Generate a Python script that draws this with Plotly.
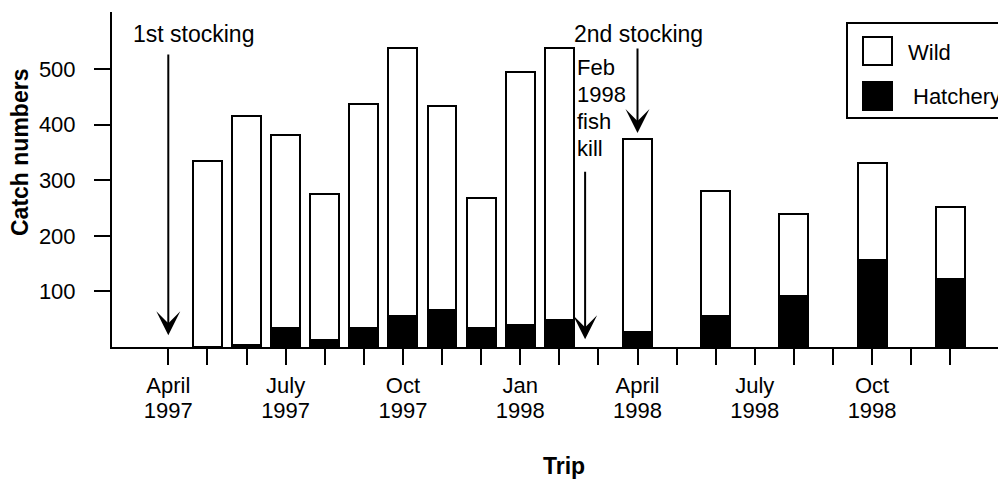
import plotly.graph_objects as go

# Survey trips (month, year) and catch composition per trip
trip_months = ["May", "Jun", "Jul", "Aug", "Sep", "Oct", "Nov", "Dec", "Jan",
               "Feb", "Apr", "Jun", "Aug", "Oct", "Dec"]
trip_years = [1997, 1997, 1997, 1997, 1997, 1997, 1997, 1997, 1998,
              1998, 1998, 1998, 1998, 1998, 1998]
hatchery = [0, 4, 35, 12, 35, 55, 67, 35, 39, 48, 27, 55, 92, 157, 123]
wild = [334, 411, 347, 264, 403, 483, 366, 234, 456, 491, 348, 226, 147, 174, 129]

# Axis labelling
tick_months = ["April", "July", "Oct", "Jan", "April", "July", "Oct"]
tick_years = ["1997", "1997", "1997", "1998", "1998", "1998", "1998"]
y_ticks = [100, 200, 300, 400, 500]

MONTHS = ["Jan", "Feb", "Mar", "Apr", "May", "Jun", "Jul", "Aug", "Sep",
          "Oct", "Nov", "Dec"]


def month_index(month, year):
    """Months elapsed since April 1997."""
    return (year - 1997) * 12 + MONTHS.index(month) - 3


x_pos = [month_index(m, y) for m, y in zip(trip_months, trip_years)]
n_months = 21
quarter_pos = list(range(0, n_months, 3))

FONT = "Liberation Sans, Arial, Helvetica, sans-serif"
W, H = 998, 479
L, R, T, B = 112, 0, 12, 132
PW, PH = W - L - R, H - T - B
X_RANGE = [-1.44, 21.22]
Y_RANGE = [0, 603]


def px_x(px):
    return (px - L) / PW


def px_y(py):
    return (H - B - py) / PH


fig = go.Figure()
fig.add_trace(go.Bar(
    x=x_pos, y=hatchery, name="Hatchery", width=0.74,
    marker=dict(color="black", line=dict(color="black", width=2)),
))
fig.add_trace(go.Bar(
    x=x_pos, y=wild, name="Wild", width=0.74,
    marker=dict(color="white", line=dict(color="black", width=2)),
))

month_text = [""] * n_months
for p, t in zip(quarter_pos, tick_months):
    month_text[p] = t

fig.update_layout(
    width=W, height=H,
    margin=dict(l=L, r=R, t=T, b=B, pad=0),
    paper_bgcolor="white", plot_bgcolor="white",
    barmode="stack", bargap=0, showlegend=False,
    font=dict(family=FONT, size=22, color="black"),
    xaxis=dict(
        range=X_RANGE, tickmode="array",
        tickvals=list(range(n_months)), ticktext=month_text,
        ticks="outside", ticklen=16, tickwidth=2, tickcolor="black",
        showline=True, linecolor="black", linewidth=2,
        showgrid=False, zeroline=False,
        tickfont=dict(size=22), ticklabelstandoff=2,
    ),
    xaxis2=dict(
        range=X_RANGE, overlaying="x", anchor="y", side="bottom",
        tickmode="array", tickvals=quarter_pos, ticktext=tick_years,
        ticks="", showline=False, showgrid=False, zeroline=False,
        tickfont=dict(size=22), ticklabelstandoff=48,
    ),
    yaxis=dict(
        range=Y_RANGE, tickmode="array", tickvals=y_ticks,
        ticks="outside", ticklen=16, tickwidth=2, tickcolor="black",
        showline=True, linecolor="black", linewidth=2,
        showgrid=False, zeroline=False,
        tickfont=dict(size=22), ticklabelstandoff=14,
    ),
)

# Invisible trace so the year axis is drawn
fig.add_trace(go.Scatter(x=[0], y=[0], xaxis="x2", yaxis="y",
                         mode="markers", marker=dict(opacity=0),
                         hoverinfo="skip", showlegend=False))

annotations = []

# Axis titles
annotations.append(dict(text="<b>Catch numbers</b>", xref="paper", yref="paper",
                        x=px_x(20), y=px_y(153), textangle=-90, showarrow=False,
                        font=dict(size=23), xanchor="center", yanchor="middle"))
annotations.append(dict(text="<b>Trip</b>", xref="paper", yref="paper",
                        x=px_x(564), y=px_y(466), showarrow=False,
                        font=dict(size=23), xanchor="center", yanchor="middle"))

# Event arrows pointing down to the axis
arrow_style = dict(showarrow=True, arrowhead=3, arrowsize=2, arrowwidth=2,
                   arrowcolor="black", text="", standoff=0,
                   xref="x", yref="y", axref="x", ayref="y")
annotations.append(dict(x=0, y=21, ax=0, ay=529, **arrow_style))
annotations.append(dict(x=12, y=385, ax=12, ay=540, **arrow_style))
annotations.append(dict(x=10.66, y=14, ax=10.66, ay=318, **arrow_style))

annotations.append(dict(text="1st stocking", x=-0.95, y=563, xref="x", yref="y",
                        xanchor="left", yanchor="middle", showarrow=False,
                        font=dict(size=23)))
annotations.append(dict(text="2nd stocking", x=10.33, y=563, xref="x", yref="y",
                        xanchor="left", yanchor="middle", showarrow=False,
                        font=dict(size=23)))
kill_lines = ["Feb", "1998", "fish", "kill"]
for i, line in enumerate(kill_lines):
    annotations.append(dict(text=line, x=px_x(575), y=px_y(68 + i * 26.7),
                            xref="paper", yref="paper", xanchor="left",
                            yanchor="middle", showarrow=False,
                            font=dict(size=22)))

# Legend box
shapes = [dict(type="rect", xref="paper", yref="paper",
               x0=px_x(847), x1=px_x(1010), y0=px_y(118), y1=px_y(23),
               line=dict(color="black", width=2), fillcolor="white", layer="above")]
legend_items = [("Wild", "white", 37, 65, 906), ("Hatchery", "black", 82, 110, 911)]
for label, color, top, bottom, tx in legend_items:
    shapes.append(dict(type="rect", xref="paper", yref="paper",
                       x0=px_x(863), x1=px_x(892), y0=px_y(bottom), y1=px_y(top),
                       line=dict(color="black", width=2), fillcolor=color,
                       layer="above"))
    annotations.append(dict(text=label, xref="paper", yref="paper",
                            x=px_x(tx), y=px_y((top + bottom) / 2 + 1),
                            xanchor="left", yanchor="middle", showarrow=False,
                            font=dict(size=22)))

fig.update_layout(annotations=annotations, shapes=shapes)

fig.write_html("out.html")
